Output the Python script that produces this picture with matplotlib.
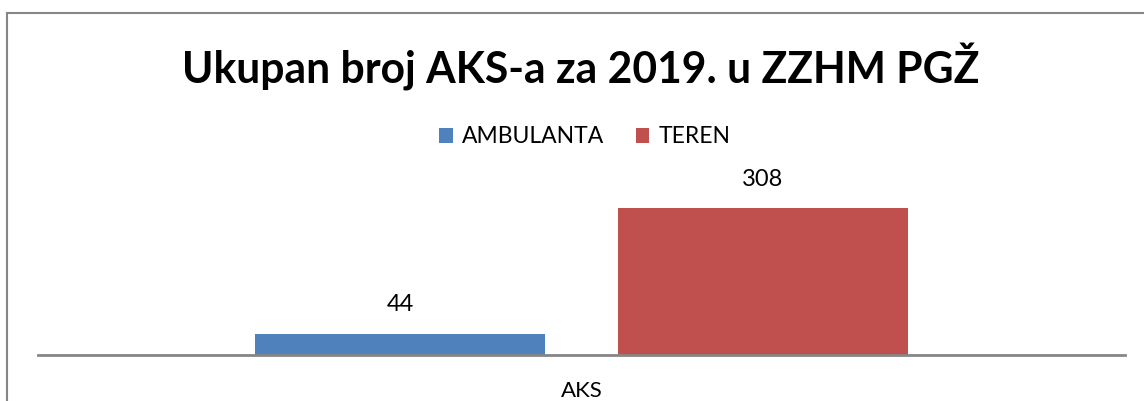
import matplotlib.pyplot as plt
from matplotlib.lines import Line2D

# Data
series = ['AMBULANTA', 'TEREN']
values = [44, 308]
category = 'AKS'
colors = ['#4F81BD', '#C0504D']
title = 'Ukupan broj AKS-a za 2019. u ZZHM PGŽ'

plt.rcParams['font.family'] = ['Lato', 'DejaVu Sans']

fig = plt.figure(figsize=(11.44, 4.01), dpi=100)
ax = fig.add_axes([38 / 1144, 46.5 / 401, 1087 / 1144, 184.5 / 401])

# Two bars side by side in one category
width = 0.2668
offsets = [-0.167, 0.167]
for name, val, col, off in zip(series, values, colors, offsets):
    ax.bar(off, val, width=width, color=col, label=name)
    ax.text(off, val + 29 / 0.4756, str(val), ha='center', va='center', fontsize=17)

ax.set_xlim(-0.5, 0.5)
ax.set_ylim(0, 388)
for s in ['top', 'right', 'left']:
    ax.spines[s].set_visible(False)
ax.spines['bottom'].set_color('#868686')
ax.spines['bottom'].set_linewidth(2)
ax.set_yticks([])
ax.set_xticks([0])
ax.set_xticklabels([category], fontsize=16)
ax.tick_params(axis='x', length=0, pad=19)

fig.text(581 / 1144, 1 - 67 / 401, title, ha='center', va='center', fontsize=30.7, fontweight='bold')

fig.legend(loc='center', bbox_to_anchor=(585 / 1144, 1 - 137 / 401), ncol=2, frameon=False,
           fontsize=16.5, handlelength=0.6, handleheight=0.6, handletextpad=0.4, columnspacing=1.35)

# Chart border (only left and top visible in the crop)
fig.add_artist(Line2D([6.5 / 1144, 6.5 / 1144], [0, 1 - 12.5 / 401], color='#868686', lw=1.5))
fig.add_artist(Line2D([6.5 / 1144, 1], [1 - 12.5 / 401, 1 - 12.5 / 401], color='#868686', lw=1.5))

plt.savefig('out.png', dpi=100)
